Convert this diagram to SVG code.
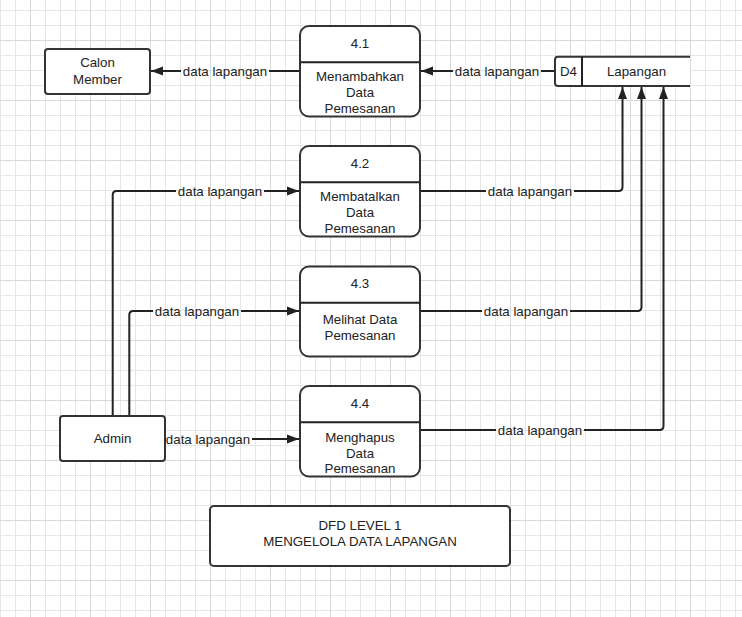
<svg xmlns="http://www.w3.org/2000/svg" width="742" height="617" viewBox="0 0 742 617">
<defs>
<pattern id="minor" width="15" height="15" patternUnits="userSpaceOnUse" x="0" y="10">
<path d="M0.5 0V15M0 0.5H15" fill="none" stroke="#e6e6e6" stroke-width="1"/>
</pattern>
<pattern id="major" width="60" height="60" patternUnits="userSpaceOnUse" x="0" y="10">
<path d="M30.5 0V60M0 30.5H60" fill="none" stroke="#d9d9d9" stroke-width="1"/>
</pattern>
<marker id="arr" viewBox="0 0 12 10" refX="12" refY="5" markerWidth="12" markerHeight="10" markerUnits="userSpaceOnUse" orient="auto">
<path d="M0 0.5L12 5L0 9.5Z" fill="#222"/>
</marker>
<style>
.box{fill:#fff;stroke:#333;stroke-width:2}
.ln{fill:none;stroke:#222;stroke-width:2}
text{font-family:"Liberation Sans",Arial,sans-serif;font-size:13.3px;fill:#222}
.c{text-anchor:middle}
</style>
</defs>
<rect width="742" height="617" fill="#fff"/>
<rect width="742" height="617" fill="url(#minor)"/>
<rect width="742" height="617" fill="url(#major)"/>

<g id="connectors">
<path class="ln" d="M555 71H541"/>
<path class="ln" d="M453 71H421" marker-end="url(#arr)"/>
<text class="c" x="497" y="75.5">data lapangan</text>

<path class="ln" d="M300 71H269"/>
<path class="ln" d="M181 71H151" marker-end="url(#arr)"/>
<text class="c" x="225" y="75.5">data lapangan</text>

<path class="ln" d="M112.7 416V195Q112.7 191 116.7 191H176"/>
<path class="ln" d="M264 191H299" marker-end="url(#arr)"/>
<text class="c" x="220" y="195.5">data lapangan</text>

<path class="ln" d="M129.3 416V315Q129.3 311 133.3 311H153"/>
<path class="ln" d="M241 311H299" marker-end="url(#arr)"/>
<text class="c" x="197" y="315.5">data lapangan</text>

<path class="ln" d="M252 439H299" marker-end="url(#arr)"/>
<text class="c" x="208" y="443.5">data lapangan</text>

<path class="ln" d="M420 191H486"/>
<path class="ln" d="M574 191H618.5Q622.5 191 622.5 187V87" marker-end="url(#arr)"/>
<text class="c" x="530" y="195.5">data lapangan</text>

<path class="ln" d="M420 311H482"/>
<path class="ln" d="M570 311H637.5Q641.5 311 641.5 307V87" marker-end="url(#arr)"/>
<text class="c" x="526" y="315.5">data lapangan</text>

<path class="ln" d="M420 430H496"/>
<path class="ln" d="M584 430H659.5Q663.5 430 663.5 426V87" marker-end="url(#arr)"/>
<text class="c" x="540" y="434.5">data lapangan</text>
</g>

<g id="calon-member">
<rect class="box" x="45" y="49" width="105" height="45" rx="3"/>
<text class="c" x="97.5" y="67">Calon</text>
<text class="c" x="97.5" y="83.5">Member</text>
</g>

<g id="p41">
<rect class="box" x="300" y="26" width="120" height="90.5" rx="9"/>
<path class="ln" d="M300 62.3H420" stroke="#333"/>
<text class="c" x="360" y="48">4.1</text>
<text class="c" x="360" y="81">Menambahkan</text>
<text class="c" x="360" y="97">Data</text>
<text class="c" x="360" y="113">Pemesanan</text>
</g>

<g id="d4">
<path class="box" d="M690 56.7H558Q555 56.7 555 59.7V83Q555 86 558 86H690"/>
<path class="ln" d="M582 56.7V86" stroke="#333"/>
<text class="c" x="568.5" y="76">D4</text>
<text class="c" x="636.5" y="76">Lapangan</text>
</g>

<g id="p42">
<rect class="box" x="300" y="146" width="120" height="90.5" rx="9"/>
<path class="ln" d="M300 182.3H420" stroke="#333"/>
<text class="c" x="360" y="167.5">4.2</text>
<text class="c" x="360" y="201">Membatalkan</text>
<text class="c" x="360" y="217">Data</text>
<text class="c" x="360" y="233">Pemesanan</text>
</g>

<g id="p43">
<rect class="box" x="300" y="266.5" width="120" height="90" rx="9"/>
<path class="ln" d="M300 302.7H420" stroke="#333"/>
<text class="c" x="360" y="288">4.3</text>
<text class="c" x="360" y="324">Melihat Data</text>
<text class="c" x="360" y="340">Pemesanan</text>
</g>

<g id="admin">
<rect class="box" x="60" y="416" width="105" height="45" rx="3"/>
<text class="c" x="112.5" y="443">Admin</text>
</g>

<g id="p44">
<rect class="box" x="300" y="386" width="120" height="90.5" rx="9"/>
<path class="ln" d="M300 422.3H420" stroke="#333"/>
<text class="c" x="360" y="408">4.4</text>
<text class="c" x="360" y="441.5">Menghapus</text>
<text class="c" x="360" y="457.5">Data</text>
<text class="c" x="360" y="473">Pemesanan</text>
</g>

<g id="title">
<rect class="box" x="210" y="506" width="300" height="60" rx="4"/>
<text class="c" x="360" y="529.5">DFD LEVEL 1</text>
<text class="c" x="360" y="546">MENGELOLA DATA LAPANGAN</text>
</g>
</svg>
